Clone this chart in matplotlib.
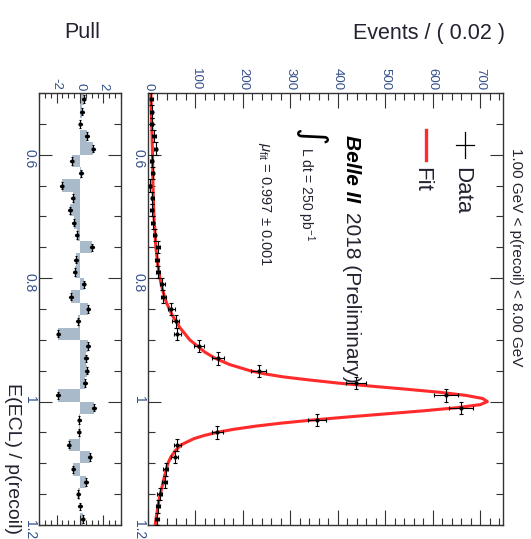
import numpy as np
import matplotlib
matplotlib.use("Agg")
import matplotlib.pyplot as plt
from matplotlib.ticker import MultipleLocator, FuncFormatter

plt.rcParams['font.family'] = ['Liberation Sans', 'DejaVu Sans']
plt.rcParams['mathtext.fontset'] = 'custom'
plt.rcParams['mathtext.rm'] = 'Liberation Sans'
plt.rcParams['mathtext.it'] = 'Liberation Sans:italic'
plt.rcParams['axes.unicode_minus'] = False

# --- data: E(ECL)/p(recoil) histogram, 0.02 bins ---
bin_centers = [0.51, 0.53, 0.55, 0.57, 0.59, 0.61, 0.63, 0.65, 0.67, 0.69,
               0.71, 0.73, 0.75, 0.77, 0.79, 0.81, 0.83, 0.85, 0.87, 0.89,
               0.91, 0.93, 0.95, 0.97, 0.99, 1.01, 1.03, 1.05, 1.07, 1.09,
               1.11, 1.13, 1.15, 1.17, 1.19]
events = [7, 8, 8, 13, 16, 8, 10, 4, 9, 8,
          10, 14, 21, 18, 21, 30, 32, 49, 58, 62,
          108, 148, 233, 439, 628, 660, 356, 146, 62, 56,
          37, 35, 25, 21, 18]
pulls = [0.31, 0.17, 0.03, 0.60, 1.14, -0.71, 0.09, -1.57, -0.63, -0.85,
         -0.54, -0.28, 1.03, -0.34, -0.46, 0.31, -0.77, 0.71, -0.17, -1.85,
         0.68, 0.51, 0.57, 0.43, -1.88, 1.20, -0.06, -0.11, -0.97, 0.83,
         -0.57, 0.51, -0.14, 0.00, 0.23]

# fit curve samples
fit_x = [0.50, 0.55, 0.60, 0.65, 0.70, 0.75, 0.78, 0.80, 0.82, 0.84,
         0.86, 0.88, 0.90, 0.92, 0.93, 0.94, 0.95, 0.955, 0.96, 0.965,
         0.97, 0.975, 0.98, 0.985, 0.99, 0.995, 1.00, 1.005, 1.01, 1.015,
         1.02, 1.025, 1.03, 1.035, 1.04, 1.045, 1.05, 1.055, 1.06, 1.07,
         1.08, 1.09, 1.10, 1.12, 1.14, 1.16, 1.18, 1.20]
fit_y = [6, 7.8, 9.5, 10.5, 12.5, 16.5, 21, 25, 31, 39,
         51, 67, 88, 120, 142, 172, 215, 245, 285, 340,
         400, 470, 545, 615, 670, 705, 715, 700, 650, 580,
         500, 420, 345, 280, 225, 180, 145, 118, 97, 70,
         57, 48, 42, 35, 29, 23, 19, 15]

W, H = 531, 539
ink = '#222230'
tick_ink = '#34508a'

fig = plt.figure(figsize=(W / 100, H / 100), dpi=100)
ax = fig.add_axes([148 / W, 1 - 525 / H, 355 / W, 432 / H])
axp = fig.add_axes([39 / W, 1 - 525 / H, 82 / W, 432 / H])

# main panel (rotated: events along x, E/p down the page)
ax.plot(fit_y, fit_x, color='#ff2a2a', lw=2.2, zorder=2)
ev = np.array(events, dtype=float)
ax.errorbar(ev, bin_centers, xerr=np.sqrt(ev), yerr=0.01, fmt='o', ms=2,
            color='black', ecolor='black', elinewidth=0.8, capsize=1.2,
            capthick=0.8, zorder=3)
ax.set_xlim(0, 748)
ax.set_ylim(1.2, 0.5)

# pull panel
axp.barh(bin_centers, pulls, height=0.02, color='#a9bbcb', zorder=1)
axp.errorbar(pulls, bin_centers, xerr=0.15, yerr=0.006, fmt='o', ms=2,
             color='black', elinewidth=0.8, capsize=1, capthick=0.8, zorder=3)
axp.set_xlim(-3.5, 3.5)
axp.set_ylim(1.2, 0.5)

fmt_g = FuncFormatter(lambda v, p: '%g' % v)
for a in (ax, axp):
    for s in a.spines.values():
        s.set_color('#333333')
        s.set_linewidth(1.0)
    a.yaxis.set_major_locator(MultipleLocator(0.2))
    a.yaxis.set_minor_locator(MultipleLocator(0.05))
    a.yaxis.set_major_formatter(fmt_g)
    a.tick_params(axis='y', which='both', direction='in', left=True, right=True,
                  labelleft=True, labelright=False, labelrotation=-90,
                  labelsize=10, labelcolor=tick_ink, color='#333333', pad=1.5)
    a.tick_params(axis='y', which='major', length=9.5, width=0.8)
    a.tick_params(axis='y', which='minor', length=5, width=0.8)
    a.tick_params(axis='x', which='both', direction='in', top=True, bottom=True,
                  labeltop=True, labelbottom=False, labelrotation=-90,
                  labelsize=9.5, labelcolor=tick_ink, color='#333333', pad=2)
    a.tick_params(axis='x', which='major', width=0.8)
    a.tick_params(axis='x', which='minor', width=0.8)

ax.xaxis.set_major_locator(MultipleLocator(100))
ax.xaxis.set_minor_locator(MultipleLocator(20))
ax.tick_params(axis='x', which='major', length=11)
ax.tick_params(axis='x', which='minor', length=5)

axp.xaxis.set_major_locator(MultipleLocator(2))
axp.xaxis.set_minor_locator(MultipleLocator(0.5))
axp.tick_params(axis='x', which='major', length=7)
axp.tick_params(axis='x', which='minor', length=3.5)


def fx(px):
    return px / W


def fy(py):
    return 1 - py / H


# axis titles
fig.text(fx(505), fy(33), 'Events / ( 0.02 )', ha='right', va='center',
         fontsize=15.5, color=ink)
fig.text(fx(82), fy(33), 'Pull', ha='center', va='center',
         fontsize=15.5, color=ink)
fig.text(fx(12), fy(534), 'E(ECL) / p(recoil)', ha='center', va='bottom',
         rotation=-90, fontsize=14, color=ink)

# legend
fig.lines.append(plt.Line2D([fx(465), fx(465)], [fy(132), fy(158)],
                            transform=fig.transFigure, color='black', lw=0.9))
fig.lines.append(plt.Line2D([fx(456), fx(474)], [fy(145), fy(145)],
                            transform=fig.transFigure, color='black', lw=0.9))
fig.text(fx(462), fy(167), 'Data', ha='center', va='top', rotation=-90,
         fontsize=16, color=ink)
fig.lines.append(plt.Line2D([fx(426), fx(426)], [fy(130), fy(160)],
                            transform=fig.transFigure, color='#ff2a2a', lw=2.4))
fig.text(fx(422), fy(167), 'Fit', ha='center', va='top', rotation=-90,
         fontsize=16, color=ink)

# annotations
fig.text(fx(516), fy(148), '1.00 GeV < p(recoil) < 8.00 GeV', ha='center',
         va='top', rotation=-90, fontsize=11, color=ink)
fig.text(fx(352), fy(135), 'Belle II', ha='center', va='top', rotation=-90,
         fontsize=15, fontweight='bold', fontstyle='italic', color='black')
fig.text(fx(352), fy(212), '2018 (Preliminary)', ha='center', va='top',
         rotation=-90, fontsize=15, color=ink)
fig.text(fx(311), fy(128), '\u222b', ha='center', va='top', rotation=-90,
         fontsize=24, color='black', family=['DejaVu Sans'])
fig.text(fx(306), fy(147), r'L dt = 250 pb$^{-1}$', ha='center', va='top',
         rotation=-90, fontsize=10, color=ink)
fig.text(fx(264), fy(142), r'$\mu_{\rm fit}$ = 0.997 $\pm$ 0.001', ha='center',
         va='top', rotation=-90, fontsize=10.5, color=ink)

fig.savefig('out.png', dpi=100)
